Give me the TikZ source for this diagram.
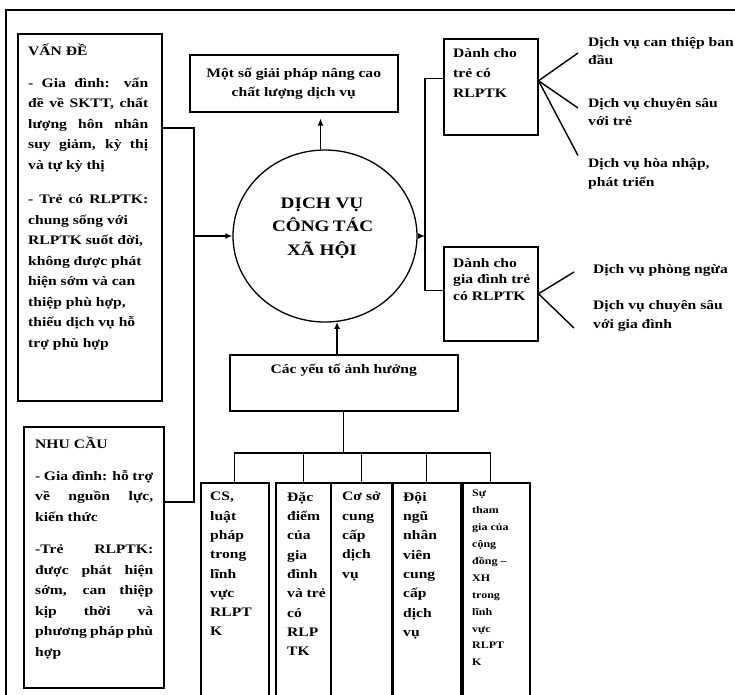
\documentclass[tikz,border=0pt]{standalone}
\usepackage{fontspec}
\setmainfont{Liberation Serif}[FakeStretch=1.2]
\usetikzlibrary{arrows.meta,shapes.geometric}
\newcommand{\jst}[2][120pt]{\makebox[#1][s]{#2}}

\begin{document}
\begin{tikzpicture}[x=1pt, y=-1pt,
    every node/.style={font=\fontsize{13}{20.5}\selectfont\bfseries},
    box/.style={draw, line width=1.5pt, anchor=north west, inner sep=0pt},
    col/.style={box, minimum height=240pt},
    txt/.style={anchor=north west, align=left, inner sep=0pt},
    coltxt/.style={txt, yshift=-10pt, font=\fontsize{13}{19.3}\selectfont\bfseries},
    rtxt/.style={anchor=west, align=left, inner sep=3pt, font=\fontsize{13}{18.5}\selectfont\bfseries},
    conn/.style={line width=1.4pt},
    arr/.style={conn, -{Latex[length=7pt,width=6pt]}},
]
    \useasboundingbox (0,0) rectangle (735,694);
    \clip (0,0) rectangle (735,694);

    % Frame
    \draw[line width=2pt] (6,10) rectangle (760,720);

    % Left column
    \node[box, minimum width=144pt, minimum height=367pt,
        label={[txt, xshift=11pt, yshift=-11pt]north west:{VẤN ĐỀ\\[11pt]
        \jst{- Gia đình: vấn}\\ \jst{đề về SKTT, chất}\\ \jst{lượng hôn nhân}\\ \jst{suy giảm, kỳ thị}\\ và tự kỳ thị\\[14pt]
        \jst{- Trẻ có RLPTK:}\\ chung sống với\\ RLPTK suốt đời,\\ không được phát\\ hiện sớm và can\\ thiệp phù hợp,\\ thiếu dịch vụ hỗ\\ trợ phù hợp}}] (vande) at (17,33) {};
    \node[box, minimum width=140pt, minimum height=261pt,
        label={[txt, xshift=12pt, yshift=-11pt]north west:{NHU CẦU\\[11pt]
        \jst[118pt]{- Gia đình: hỗ trợ}\\ \jst[118pt]{về nguồn lực,}\\ kiến thức\\[12pt]
        \jst[118pt]{-Trẻ RLPTK:}\\ \jst[118pt]{được phát hiện}\\ \jst[118pt]{sớm, can thiệp}\\ \jst[118pt]{kịp thời và}\\ \jst[118pt]{phương pháp phù}\\ hợp}}] (nhucau) at (23,426) {};

    % Centre
    \node[box, minimum width=208pt, minimum height=57pt, align=center,
        font=\fontsize{13}{19}\selectfont\bfseries] (giaiphap) at (189,54) {Một số giải pháp nâng cao\\chất lượng dịch vụ};
    \node[draw, line width=1.3pt, ellipse, minimum width=184pt, minimum height=172pt, inner sep=0pt,
        font=\fontsize{16}{23.5}\selectfont\bfseries] (dv) at (325,236)
        {\hspace*{-6pt}\begin{tabular}{@{}c@{}}DỊCH VỤ\\\jst[100pt]{CÔNG TÁC}\\XÃ HỘI\\[18pt]\end{tabular}};
    \node[box, minimum width=228pt, minimum height=56pt,
        label={[anchor=north, inner sep=0pt, yshift=-10pt]north:{Các yếu tố ảnh hưởng}}] (yeuto) at (229,354) {};

    % Right column
    \node[box, minimum width=94pt, minimum height=96pt,
        label={[txt, xshift=10pt, yshift=-10pt, font=\fontsize{13}{20}\selectfont\bfseries]north west:{Dành cho\\trẻ có\\RLPTK}}] (tre) at (443,38) {};
    \node[box, minimum width=94pt, minimum height=94pt,
        label={[txt, xshift=10pt, yshift=-12pt, font=\fontsize{13}{16.5}\selectfont\bfseries]north west:{Dành cho\\gia đình trẻ\\có RLPTK}}] (gd) at (443,246) {};

    \node[rtxt] (ct) at (585,51) {Dịch vụ can thiệp ban\\đầu};
    \node[rtxt] (cst) at (585,112) {Dịch vụ chuyên sâu\\với trẻ};
    \node[rtxt] (hn) at (585,174) {Dịch vụ hòa nhập,\\phát triển};
    \node[rtxt] (pn) at (590,270) {Dịch vụ phòng ngừa};
    \node[rtxt] (csg) at (590,316) {Dịch vụ chuyên sâu\\với gia đình};

    % Factors
    \node[col, minimum width=68pt, label={[coltxt, xshift=10pt]north west:{CS,\\luật\\pháp\\trong\\lĩnh\\vực\\RLPT\\K}}] (cs) at (200,482) {};
    \node[col, minimum width=55pt, label={[coltxt, xshift=12pt]north west:{Đặc\\điểm\\của\\gia\\đình\\và trẻ\\có\\RLP\\TK}}] (dd) at (275,482) {};
    \node[col, minimum width=61pt, label={[coltxt, xshift=12pt]north west:{Cơ sở\\cung\\cấp\\dịch\\vụ}}] (cscc) at (330,482) {};
    \node[col, minimum width=68pt, label={[coltxt, xshift=11pt]north west:{Đội\\ngũ\\nhân\\viên\\cung\\cấp\\dịch\\vụ}}] (dn) at (392,482) {};
    \node[col, minimum width=67pt, label={[coltxt, xshift=10pt, yshift=2pt, font=\fontsize{10}{16.9}\selectfont\bfseries]north west:{Sự\\tham\\gia của\\cộng\\đồng –\\XH\\trong\\lĩnh\\vực\\RLPT\\K}}] (tg) at (462,482) {};

    % Connectors
    \coordinate (busL) at (194,236);
    \coordinate (busR) at (425,236);
    \coordinate (busB) at (341,453);
    \draw[conn] ([yshift=-95pt]vande.north east) -| (busL) |- ([yshift=-76pt]nhucau.north east);
    \draw[arr] (busL) -- (dv.west);
    \draw[arr] (dv.east) -- (busR);
    \draw[conn] ([yshift=8pt]tre.west) -| (busR) |- ([yshift=3pt]gd.west);
    \draw[arr, shorten >=6pt] (dv.93) -- (dv.93 |- giaiphap.south);
    \draw[arr] (dv.278 |- yeuto.north) -- (dv.278);

    \draw[conn] ([yshift=6pt]tre.east) -- ([xshift=-7pt,yshift=-2pt]ct.west);
    \draw[conn] ([yshift=6pt]tre.east) -- ([xshift=-7pt,yshift=4pt]cst.west);
    \draw[conn] ([yshift=6pt]tre.east) -- ([xshift=-7pt]hn.north west);
    \draw[conn] (gd.east) -- ([xshift=-16pt,yshift=-2pt]pn.west);
    \draw[conn] (gd.east) -- ([xshift=-16pt,yshift=-12pt]csg.west);

    \draw[conn] (yeuto.south) -- (yeuto.south |- busB);
    \foreach \c in {cs,dd,cscc,dn}
        \draw[conn] (yeuto.south |- busB) -| (\c.north);
    \draw[conn] (yeuto.south |- busB) -| ([xshift=-6pt]tg.north);
\end{tikzpicture}
\end{document}
